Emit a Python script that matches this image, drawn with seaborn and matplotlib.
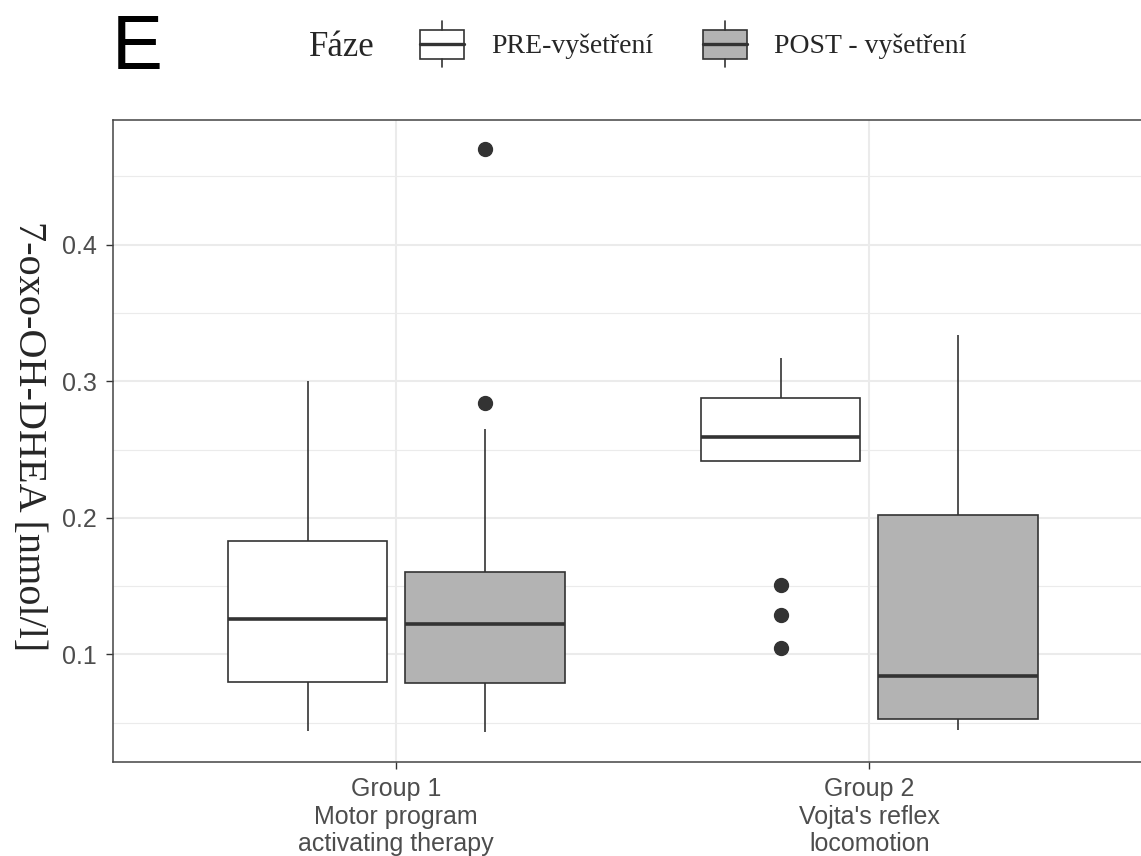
import numpy as np
import pandas as pd
import matplotlib
matplotlib.use("Agg")
import matplotlib.pyplot as plt
from matplotlib.patches import Patch, Rectangle
from matplotlib.lines import Line2D
from matplotlib.legend_handler import HandlerBase
from matplotlib.ticker import MultipleLocator, FormatStrFormatter
import seaborn as sns

# ---- data -------------------------------------------------------------
groups = ["Group 1\nMotor program\nactivating therapy",
          "Group 2\nVojta's reflex\nlocomotion"]
phases = ["PRE-vyšetření", "POST - vyšetření"]

# one entry per box: (group, phase)
box_group = [groups[0], groups[0], groups[1], groups[1]]
box_phase = [phases[0], phases[1], phases[0], phases[1]]
whisker_low = [0.044, 0.043, 0.2415, 0.045]
q1 = [0.080, 0.079, 0.2415, 0.053]
median = [0.126, 0.122, 0.259, 0.084]
q3 = [0.183, 0.1605, 0.288, 0.202]
whisker_high = [0.300, 0.265, 0.317, 0.334]
outliers = [[], [0.284, 0.470], [0.151, 0.129, 0.105], []]

phase_colors = {phases[0]: "#FFFFFF", phases[1]: "#B3B3B3"}
LINE = "#333333"

# Each box is encoded as a sample whose quartiles, whisker ends and
# outliers reproduce the summary values above (numpy linear percentiles).
rows = []
for g, p, lo, a, m, b, hi, out in zip(box_group, box_phase, whisker_low, q1,
                                      median, q3, whisker_high, outliers):
    values = [lo] + [a] * 10 + [m] * 10 + [b] * 10 + [hi] + list(out)
    rows += [(g, p, v) for v in values]
df = pd.DataFrame(rows, columns=["Skupina", "Fáze", "hodnota"])

# ---- figure -----------------------------------------------------------
sns.set_theme(style="white")
plt.rcParams["font.family"] = ["Liberation Sans", "DejaVu Sans"]

W, H = 1141, 856
fig = plt.figure(figsize=(W / 100, H / 100), dpi=100)
ax = fig.add_axes([112.5 / W, 1 - 761.5 / H, 1040.5 / W, 641.5 / H])

sns.boxplot(
    data=df, x="Skupina", y="hodnota", hue="Fáze",
    order=groups, hue_order=phases, palette=phase_colors, saturation=1,
    width=0.75, gap=0.1, whis=1.5,
    linecolor=LINE, linewidth=1.2, fliersize=10,
    medianprops=dict(linewidth=2.6),
    capprops=dict(linewidth=0),
    flierprops=dict(marker="o", markerfacecolor=LINE, markeredgecolor=LINE,
                    markeredgewidth=1),
    legend=False, ax=ax,
)

# ggplot-like axis expansion
all_vals = df["hodnota"]
span = all_vals.max() - all_vals.min()
ax.set_ylim(all_vals.min() - 0.05 * span, all_vals.max() + 0.05 * span)
ax.set_xlim(-0.6, 1.6)

ax.yaxis.set_major_locator(MultipleLocator(0.1))
ax.yaxis.set_minor_locator(MultipleLocator(0.05))
ax.yaxis.set_major_formatter(FormatStrFormatter("%.1f"))

ax.set_axisbelow(True)
ax.grid(which="major", axis="both", color="#EBEBEB", linewidth=1.5)
ax.grid(which="minor", axis="y", color="#EBEBEB", linewidth=0.8)

ax.tick_params(which="major", bottom=True, left=True, length=5, width=1.0,
               color=LINE, labelsize=18, labelcolor="#4D4D4D")
ax.tick_params(axis="x", pad=6)
ax.tick_params(axis="y", pad=6)
ax.tick_params(which="minor", length=0)

for sp in ax.spines.values():
    sp.set_visible(True)
    sp.set_color("#444444")
    sp.set_linewidth(1.1)

ax.set_xlabel("")
ax.set_ylabel("7-oxo-OH-DHEA [nmol/l]", family="Liberation Serif",
              fontsize=29, rotation=270, va="center", ha="center")
ax.yaxis.set_label_coords((28 - 112.5) / 1040.5, (761.5 - 436) / 641.5)


# ---- legend with box-shaped keys ----------------------------------------
class BoxKeyHandler(HandlerBase):
    def create_artists(self, legend, orig_handle, xdescent, ydescent,
                       width, height, fontsize, trans):
        x0, y0 = -xdescent, -ydescent - 3.6
        full_h = height + ydescent
        box_h = full_h * 0.63
        by = y0 + (full_h - box_h) / 2
        cx = x0 + width / 2
        mid = y0 + full_h / 2
        rect = Rectangle((x0, by), width, box_h,
                         facecolor=orig_handle.get_facecolor(),
                         edgecolor=LINE, linewidth=1.2, transform=trans)
        med = Line2D([x0, x0 + width], [mid, mid], color=LINE,
                     linewidth=2.4, transform=trans)
        top = Line2D([cx, cx], [by + box_h, y0 + full_h], color=LINE,
                     linewidth=1.2, transform=trans)
        bot = Line2D([cx, cx], [y0, by], color=LINE, linewidth=1.2,
                     transform=trans)
        return [rect, med, top, bot]


handles = [Patch(facecolor=phase_colors[p], edgecolor=LINE) for p in phases]
fig.legend(handles, phases, handler_map={Patch: BoxKeyHandler()},
           loc="center left", bbox_to_anchor=(420 / W, 1 - 44 / H),
           ncol=2, frameon=False, borderpad=0, borderaxespad=0,
           handlelength=1.58, handleheight=1.65, handletextpad=0.97,
           columnspacing=1.8,
           prop={"family": "Liberation Serif", "size": 20})

fig.text(309 / W, 1 - 56 / H, "Fáze", family="Liberation Serif",
         fontsize=25, va="baseline", ha="left")
fig.text(112 / W, 1 - 69 / H, "E", family="Liberation Sans",
         fontsize=55, va="baseline", ha="left", color="black")

fig.savefig("out.png", dpi=100)
